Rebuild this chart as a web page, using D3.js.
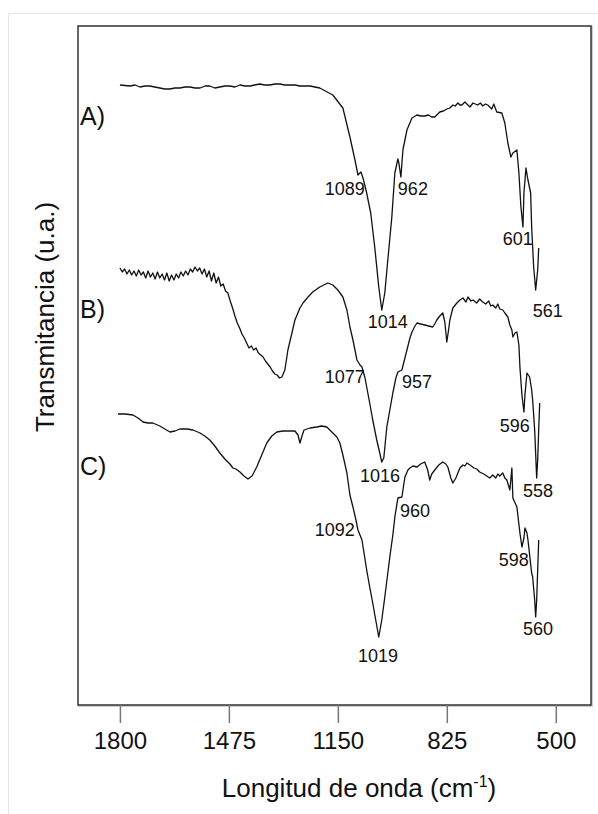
<!DOCTYPE html>
<html>
<head>
<meta charset="utf-8">
<script src="https://cdn.jsdelivr.net/npm/d3@7"></script>
<style>
  body { margin: 0; background: #fff; }
  svg { display: block; font-family: "Liberation Sans", Arial, sans-serif; }
</style>
</head>
<body>
<svg id="chart" width="598" height="814"></svg>
<script>
// wavenumber (cm-1), transmittance (a.u., spectra stacked with offsets)
const spectrumA = [
  [1800,620],[1770,619],[1755,620],[1740,618],[1725,619],[1711,619],[1696,618],[1681,617],[1666,616],[1651,616],
  [1636,617],[1621,617],[1606,618],[1591,618],[1576,617],[1561,617],[1546,619],[1532,619],[1517,617],[1502,618],
  [1487,619],[1472,619],[1457,618],[1442,620],[1427,619],[1412,619],[1398,620],[1383,621],[1368,620],[1353,620],
  [1338,621],[1323,621],[1308,620],[1293,620],[1278,620],[1263,619],[1233,619],[1204,617],[1165,610],[1135,597],
  [1114,568],[1099,545],[1090,530],[1081,533],[1075,527],[1064,512],[1052,492],[1040,458],[1028,418],[1019,395],
  [1010,412],[1001,445],[989,488],[980,532],[971,546],[968,542],[962,528],[956,555],[944,575],[929,587],
  [914,590],[903,589],[891,589],[880,590],[870,588],[861,588],[846,593],[835,594],[825,596],[816,597],[807,600],
  [800,599],[792,602],[786,600],[780,600],[771,603],[762,600],[756,598],[747,602],[740,601],[733,600],[725,602],[718,599],
  [710,601],[703,600],[697,598],[691,596],[685,601],[676,593],[661,592],[652,582],[643,562],[634,548],[628,552],
  [616,555],[610,532],[604,498],[598,478],[595,512],[589,537],[583,525],[575,512],[572,478],[566,438],
  [560,415],[554,435],[551,457]
];
const spectrumB = [
  [1800,437],[1793,433],[1786,436],[1779,431],[1772,435],[1765,430],[1758,434],[1751,429],[1744,435],[1737,430],
  [1730,433],[1723,427],[1716,434],[1709,428],[1702,432],[1695,426],[1688,433],[1681,427],[1674,431],[1667,425],
  [1660,432],[1653,424],[1646,430],[1639,425],[1632,431],[1625,427],[1618,433],[1611,429],[1604,434],[1597,430],
  [1590,436],[1583,433],[1576,438],[1569,434],[1562,437],[1555,431],[1548,436],[1541,428],[1534,434],[1527,424],
  [1520,432],[1513,422],[1506,428],[1499,419],[1492,421],[1485,414],[1478,412],[1471,404],[1464,397],[1457,389],
  [1450,382],[1443,377],[1436,371],[1429,367],[1422,362],[1415,357],[1408,359],[1401,355],[1394,357],[1387,352],
  [1380,350],[1373,348],[1366,344],[1359,341],[1352,338],[1345,334],[1338,331],[1331,330],[1324,327],[1317,328],
  [1308,335],[1299,355],[1287,372],[1278,385],[1263,397],[1254,402],[1239,408],
  [1225,413],[1204,418],[1180,422],[1165,420],[1150,415],[1135,408],[1123,395],[1114,378],[1105,365],[1093,345],
  [1084,340],[1078,338],[1069,327],[1064,318],[1055,302],[1046,285],[1034,265],[1025,252],[1019,243],[1013,247],
  [1004,278],[995,295],[986,312],[977,327],[971,333],[965,334],[959,335],[950,347],[944,355],[935,367],
  [929,373],[920,379],[914,382],[903,381],[891,380],[879,379],[867,378],[861,381],[855,385],[846,389],
  [837,392],[831,383],[825,363],[819,377],[816,385],[807,397],[795,402],[786,405],[777,407],[768,403],
  [762,408],[753,404],[747,405],[736,402],[727,406],[718,403],[709,401],[700,404],[694,399],[688,400],
  [679,397],[673,401],[667,396],[658,395],[652,392],[643,388],[637,380],[631,375],[628,368],[622,372],
  [616,373],[610,360],[607,338],[601,310],[595,293],[592,310],[586,332],[580,329],[578,328],[572,315],
  [569,305],[563,275],[557,227],[554,245],[551,275],[548,302]
];
const spectrumC = [
  [1806,291],[1785,291],[1761,290],[1746,287],[1731,283],[1717,282],[1702,282],[1681,279],[1666,276],[1651,273],
  [1636,274],[1621,276],[1600,276],[1582,275],[1561,272],[1547,269],[1532,265],[1517,259],[1502,252],[1487,246],
  [1472,241],[1463,237],[1454,236],[1442,233],[1430,229],[1418,226],[1406,229],[1392,238],[1377,250],[1362,262],
  [1347,269],[1332,273],[1314,274],[1293,274],[1278,274],[1269,270],[1263,262],[1257,269],[1251,275],[1233,277],
  [1213,278],[1198,279],[1183,278],[1165,272],[1153,268],[1144,262],[1135,250],[1123,232],[1114,210],[1105,198],
  [1096,185],[1090,175],[1078,165],[1064,135],[1055,118],[1046,102],[1037,85],[1028,68],[1019,85],[1010,108],
  [1001,132],[995,148],[986,170],[980,188],[971,207],[959,208],[950,228],[941,235],[935,237],[926,239],
  [914,238],[903,241],[891,243],[882,235],[876,225],[870,231],[861,235],[849,240],[837,243],[828,241],
  [822,238],[813,227],[807,222],[798,227],[792,232],[786,237],[777,240],[771,239],[765,242],[756,240],
  [744,237],[736,236],[727,233],[715,231],[706,229],[697,227],[688,230],[679,227],[673,231],[667,229],
  [658,232],[652,227],[646,225],[637,215],[631,237],[628,207],[616,198],[607,172],[601,158],[595,167],
  [592,177],[586,172],[583,165],[578,150],[572,132],[569,128],[563,105],[560,88],[557,105],[551,165]
];

// peak labels: text, wavenumber of left edge, baseline (a.u.)
const peakLabels = [
  ["1089",1189,510],["962",971,510],["1014",1061,377],["601",658,460],["561",569,388],
  ["1077",1189,322],["957",959,317],["1016",1084,223],["596",667,273],["558",598,208],
  ["1092",1219,169],["960",965,188],["1019",1090,43],["598",670,139],["560",598,70]
];
const seriesNames = ["A)", "B)", "C)"];
const seriesNamePos = [580, 387, 230];
const xTicks = [1800, 1475, 1150, 825, 500];

const width = 598, height = 814;
const box = {left: 78, right: 591, top: 26, bottom: 705};

const svg = d3.select("#chart");

// faint page frame
svg.append("rect")
  .attr("x", 8.5).attr("y", 13.5)
  .attr("width", 600).attr("height", 820)
  .attr("fill", "none").attr("stroke", "#e6e6e6").attr("stroke-width", 1);

const x = d3.scaleLinear()
  .domain([1925, 395])
  .range([box.left, box.right]);
const y = d3.scaleLinear()
  .domain([0, 679])
  .range([box.bottom, box.top]);

// plot box with soft shadow
svg.append("rect")
  .attr("x", box.left + 1).attr("y", box.top + 1)
  .attr("width", box.right - box.left).attr("height", box.bottom - box.top)
  .attr("fill", "none").attr("stroke", "#cfcfcf").attr("stroke-width", 2);
svg.append("rect")
  .attr("x", box.left).attr("y", box.top)
  .attr("width", box.right - box.left).attr("height", box.bottom - box.top)
  .attr("fill", "#fff").attr("stroke", "#333").attr("stroke-width", 1.5);

const xAxis = svg.append("g")
  .attr("transform", `translate(0,${box.bottom})`)
  .call(d3.axisBottom(x).tickValues(xTicks).tickSize(18).tickPadding(9).tickFormat(d3.format("d")));
xAxis.select(".domain").remove();
xAxis.selectAll(".tick line").attr("stroke", "#777").attr("stroke-width", 1.5);
xAxis.selectAll(".tick text")
  .attr("fill", "#111")
  .style("font-size", "24px")
  .style("font-family", "'Liberation Sans', Arial, sans-serif");

const line = d3.line()
  .x(d => x(d[0]))
  .y(d => y(d[1]));

[spectrumA, spectrumB, spectrumC].forEach(s => {
  svg.append("path")
    .datum(s)
    .attr("d", line)
    .attr("fill", "none")
    .attr("stroke", "#111")
    .attr("stroke-width", 1.3)
    .attr("stroke-linejoin", "round");
});

svg.append("g")
  .selectAll("text")
  .data(peakLabels)
  .join("text")
    .attr("x", d => x(d[1]))
    .attr("y", d => y(d[2]))
    .attr("font-size", 18)
    .attr("fill", "#111")
    .text(d => d[0]);

svg.append("g")
  .selectAll("text")
  .data(seriesNames)
  .join("text")
    .attr("x", 80)
    .attr("y", (d, i) => y(seriesNamePos[i]))
    .attr("font-size", 25)
    .attr("fill", "#111")
    .text(d => d);

// axis titles
const xTitle = svg.append("text")
  .attr("x", 359).attr("y", 797)
  .attr("text-anchor", "middle")
  .attr("font-size", 26)
  .attr("fill", "#111");
xTitle.append("tspan").text("Longitud de onda (cm");
xTitle.append("tspan").attr("font-size", 16).attr("dy", -10).text("-1");
xTitle.append("tspan").attr("dy", 10).text(")");

svg.append("text")
  .attr("transform", "translate(54,317) rotate(-90)")
  .attr("text-anchor", "middle")
  .attr("font-size", 26)
  .attr("fill", "#111")
  .text("Transmitancia (u.a.)");
</script>
</body>
</html>
